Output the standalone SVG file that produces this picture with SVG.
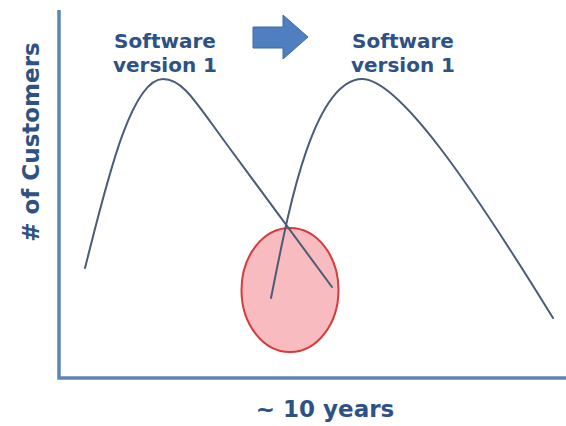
<svg xmlns="http://www.w3.org/2000/svg" width="566" height="426" viewBox="0 0 566 426">
  <style>
    .lbl { font-family: "DejaVu Sans", Verdana, sans-serif; font-weight: bold; fill: #2d5283; }
    .curve { fill: none; stroke: #4a5c78; stroke-width: 2; stroke-linecap: round; stroke-linejoin: round; }
    .axis { fill: none; stroke: #5f85b5; stroke-width: 3.5; }
  </style>
  <rect width="566" height="426" fill="#ffffff"/>

  <g id="axes">
    <path class="axis" d="M59,10 V378 H566"/>
  </g>

  <g id="overlap-zone">
    <ellipse cx="290" cy="290" rx="48.5" ry="62" fill="#f8bbbf" stroke="#d43b3b" stroke-width="2"/>
  </g>

  <g id="connectors">
    <path id="curve-v1" class="curve" d="M85,268 C105,190 130,79 163,79 C183,79 195.3,101.7 228,146 L332,287"/>
    <path id="curve-v2" class="curve" d="M271,298 C285,230 310,80 362,79 C398,79 468,180 553,318"/>
  </g>

  <g id="transition-arrow">
    <path d="M253,27 H283 V15 L308,37 L283,59 V48 H253 Z" fill="#4f7fc0" stroke="#3d6aa8" stroke-width="1"/>
  </g>

  <g id="label-left">
    <text class="lbl" x="165" y="48" font-size="20" text-anchor="middle">Software</text>
    <text class="lbl" x="165" y="72" font-size="20" text-anchor="middle">version 1</text>
  </g>

  <g id="label-right">
    <text class="lbl" x="403" y="48" font-size="20" text-anchor="middle">Software</text>
    <text class="lbl" x="403" y="72" font-size="20" text-anchor="middle">version 1</text>
  </g>

  <g id="y-label">
    <text class="lbl" x="0" y="0" font-size="23" text-anchor="middle" transform="translate(39,142) rotate(-90)"># of Customers</text>
  </g>

  <g id="x-label">
    <text class="lbl" x="325" y="417" font-size="23" text-anchor="middle">~ 10 years</text>
  </g>
</svg>
